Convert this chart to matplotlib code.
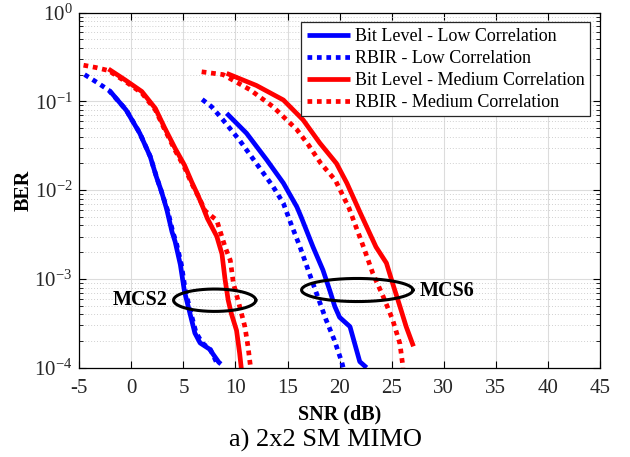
import numpy as np
import matplotlib
matplotlib.use("Agg")
import matplotlib.pyplot as plt
from matplotlib.ticker import LogLocator, NullFormatter, LogFormatterMathtext

plt.rcParams['font.family'] = ['Liberation Serif', 'DejaVu Serif']
plt.rcParams['mathtext.fontset'] = 'custom'
plt.rcParams['mathtext.rm'] = 'Liberation Serif'
plt.rcParams['mathtext.it'] = 'Liberation Serif:italic'
plt.rcParams['mathtext.bf'] = 'Liberation Serif:bold'

# ---- data ----
# MCS2 group
snr_bit_low_2 = [-2.1, -0.5, 0.8, 1.8, 2.4, 2.9, 3.4, 3.9, 4.2, 4.7, 5.1, 5.6, 6.1, 6.6, 7.5, 8.4, 8.6]
ber_bit_low_2 = [0.132, 0.0794, 0.0437, 0.024, 0.0141, 0.00955, 0.00603, 0.00339, 0.00263, 0.00145,
                 7.2e-4, 4.2e-4, 2.45e-4, 1.9e-4, 1.62e-4, 1.15e-4, 1.1e-4]
snr_rbir_low_2 = [-4.5, -3.3, -2.2, -0.5, 0.8, 1.8, 2.4, 2.9, 3.5, 4.0, 4.3, 4.8, 5.2, 5.7, 6.2, 6.8, 7.6, 8.1, 8.3]
ber_rbir_low_2 = [0.2, 0.163, 0.134, 0.08, 0.044, 0.024, 0.0142, 0.0095, 0.0058, 0.0033, 0.0026, 0.00145,
                  7.2e-4, 4.2e-4, 2.5e-4, 1.9e-4, 1.6e-4, 1.2e-4, 1.05e-4]
snr_bit_med_2 = [-2.2, -0.6, 1.0, 2.3, 3.2, 4.2, 5.1, 5.8, 6.4, 6.9, 7.3, 8.2, 8.7, 9.0, 9.3, 9.6, 10.1, 10.4, 10.6]
ber_bit_med_2 = [0.231, 0.174, 0.129, 0.0832, 0.0501, 0.0295, 0.0191, 0.0123, 0.0087, 0.0063, 0.00479,
                 0.00302, 0.00191, 9.8e-4, 5.75e-4, 4.07e-4, 2.63e-4, 1.45e-4, 0.89e-4]
snr_rbir_med_2 = [-4.6, -3.4, -2.2, -0.6, 1.0, 2.3, 3.2, 4.2, 5.1, 5.8, 6.5, 7.1, 8.2, 9.0, 9.5, 9.8, 10.4, 10.9, 11.2, 11.5]
ber_rbir_med_2 = [0.255, 0.24, 0.222, 0.168, 0.124, 0.08, 0.048, 0.028, 0.018, 0.0118, 0.0082, 0.0058,
                  0.00457, 0.00229, 0.00162, 8.9e-4, 4.9e-4, 2.9e-4, 1.74e-4, 0.9e-4]
# MCS6 group
snr_bit_low_6 = [9.15, 11.06, 13.0, 14.6, 15.9, 16.3, 17.45, 18.4, 19.06, 19.54, 20.0, 21.0, 21.46, 21.94, 22.6]
ber_bit_low_6 = [0.0733, 0.0437, 0.0219, 0.012, 0.00646, 0.00501, 0.00229, 0.00126, 7.4e-4, 4.9e-4,
                 3.7e-4, 2.9e-4, 1.86e-4, 1.17e-4, 1.0e-4]
snr_rbir_low_6 = [6.8, 7.7, 8.8, 10.4, 12.0, 13.6, 14.6, 15.3, 16.2, 17.1, 17.9, 18.7, 19.5, 20.2, 20.4]
ber_rbir_low_6 = [0.105, 0.087, 0.0617, 0.0363, 0.02, 0.011, 0.0071, 0.00427, 0.00229, 0.00115,
                  6.3e-4, 3.47e-4, 2.04e-4, 1.17e-4, 0.95e-4]
snr_bit_med_6 = [9.15, 12.0, 14.6, 16.5, 18.1, 19.7, 20.7, 22.0, 23.5, 24.5, 25.1, 25.8, 26.4, 27.1]
ber_bit_med_6 = [0.2065, 0.151, 0.1035, 0.0617, 0.0339, 0.02, 0.012, 0.0055, 0.00229, 0.00151,
                 8.9e-4, 4.9e-4, 2.9e-4, 1.74e-4]
snr_rbir_med_6 = [6.75, 8.8, 11.4, 13.6, 15.9, 17.0, 18.2, 19.6, 20.9, 22.3, 23.2, 24.2, 25.1, 25.8, 26.1]
ber_rbir_med_6 = [0.215, 0.2, 0.135, 0.087, 0.0479, 0.0324, 0.02, 0.0129, 0.0063, 0.00229, 0.00115,
                  6.3e-4, 3.47e-4, 1.86e-4, 1.0e-4]

legend_labels = ["Bit Level - Low Correlation", "RBIR - Low Correlation",
                 "Bit Level - Medium Correlation", "RBIR - Medium Correlation"]
x_ticks = [-5, 0, 5, 10, 15, 20, 25, 30, 35, 40, 45]

# annotations: label, ellipse centre (SNR, log10 BER), half-width (dB), half-height (decades)
mcs_labels = ["MCS2", "MCS6"]
ell_centres = [(8.0, -3.24), (21.7, -3.125)]
ell_half_w = [3.95, 5.35]
ell_half_h = [0.126, 0.13]

# ---- figure ----
fig = plt.figure(figsize=(6.3, 4.57), dpi=100)
ax = fig.add_axes([0.126, 0.1954, 0.826, 0.7772])

lw = 3.4
dot = (0, (1, 1))
blue = (0, 0, 1)
red = (1, 0, 0)

l1, = ax.semilogy(snr_bit_low_2, ber_bit_low_2, color=blue, lw=lw, solid_capstyle='butt')
l2, = ax.semilogy(snr_rbir_low_2, ber_rbir_low_2, color=blue, lw=lw, ls=dot, dash_capstyle='butt')
l3, = ax.semilogy(snr_bit_med_2, ber_bit_med_2, color=red, lw=lw, solid_capstyle='butt')
l4, = ax.semilogy(snr_rbir_med_2, ber_rbir_med_2, color=red, lw=lw, ls=dot, dash_capstyle='butt')
ax.semilogy(snr_bit_low_6, ber_bit_low_6, color=blue, lw=lw, solid_capstyle='butt')
ax.semilogy(snr_rbir_low_6, ber_rbir_low_6, color=blue, lw=lw, ls=dot, dash_capstyle='butt')
ax.semilogy(snr_bit_med_6, ber_bit_med_6, color=red, lw=lw, solid_capstyle='butt')
ax.semilogy(snr_rbir_med_6, ber_rbir_med_6, color=red, lw=lw, ls=dot, dash_capstyle='butt')

t = np.linspace(0, 2 * np.pi, 200)
for (cx, cy), a, b in zip(ell_centres, ell_half_w, ell_half_h):
    ax.plot(cx + a * np.cos(t), 10 ** (cy + b * np.sin(t)), color='black', lw=2.2)

ax.text(3.5, 10 ** -3.24, mcs_labels[0], ha='right', va='center', fontsize=14.5, fontweight='bold')
ax.text(27.7, 10 ** -3.14, mcs_labels[1], ha='left', va='center', fontsize=14.5, fontweight='bold')

ax.set_xlim(-5, 45)
ax.set_ylim(1e-4, 1)
ax.set_xticks(x_ticks)
ax.set_xticklabels([str(v) for v in x_ticks])
ax.yaxis.set_major_locator(LogLocator(base=10, numticks=10))
ax.yaxis.set_minor_locator(LogLocator(base=10, subs=np.arange(2, 10), numticks=20))
ax.yaxis.set_major_formatter(LogFormatterMathtext())
ax.yaxis.set_minor_formatter(NullFormatter())

ax.grid(True, which='major', color='#dcdcdc', lw=0.8, ls='-')
ax.grid(True, which='minor', axis='y', color='#d0d0d0', lw=0.7, ls=(0, (1, 2)))
ax.set_axisbelow(True)

ax.tick_params(which='both', direction='in', top=True, right=True, labelsize=15, labelcolor='#262626')
ax.tick_params(which='major', length=5, width=0.8)
ax.tick_params(which='minor', length=3, width=0.6)
ax.tick_params(axis='x', pad=8)
ax.tick_params(axis='y', pad=5)
for s in ax.spines.values():
    s.set_linewidth(0.9)
    s.set_color('black')

ax.set_xlabel("SNR (dB)", fontsize=14.5, fontweight='bold', labelpad=5)
ax.set_ylabel("BER", fontsize=14.5, fontweight='bold', labelpad=0)

leg = ax.legend([l1, l2, l3, l4], legend_labels, loc='upper right', fontsize=13,
                frameon=True, fancybox=False, edgecolor='#262626', framealpha=1,
                handlelength=2.4, handletextpad=0.25, labelspacing=0.28,
                borderpad=0.3, borderaxespad=0.55)
leg.get_frame().set_linewidth(0.9)

fig.text(0.516, 0.037, "a) 2x2 SM MIMO", ha='center', va='center', fontsize=19)

fig.savefig("out.png", dpi=100)
